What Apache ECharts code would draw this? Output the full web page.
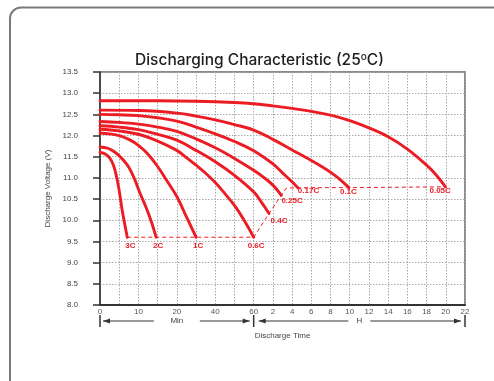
<!DOCTYPE html>
<html>
<head>
<meta charset="utf-8">
<script src="https://cdn.jsdelivr.net/npm/echarts@6/dist/echarts.min.js"></script>
<style>
html, body { margin: 0; padding: 0; background: #fff; }
#chart { width: 494px; height: 381px; }
</style>
</head>
<body>
<div id="chart"></div>
<script>
// discharge rates, one curve each
const rates = ['3C', '2C', '1C', '0.6C', '0.4C', '0.25C', '0.17C', '0.1C', '0.05C'];

// time in minutes, voltage in V
const t3C = [0, 1.25, 2.5, 3.5, 4.25, 5, 5.75, 6.5, 7.1];
const v3C = [11.60, 11.57, 11.47, 11.30, 11.05, 10.70, 10.25, 9.88, 9.60];
const t2C = [0, 2, 4, 6, 7.5, 9, 10.5, 12, 13.5, 14.6];
const v2C = [11.73, 11.70, 11.60, 11.43, 11.25, 10.97, 10.62, 10.30, 9.93, 9.60];
const t1C = [0, 2.5, 5, 7.5, 10, 12.5, 15, 17.5, 20, 25, 30];
const v1C = [12.06, 12.04, 12.00, 11.91, 11.77, 11.56, 11.27, 10.92, 10.56, 10.08, 9.60];
const t06C = [0, 5, 10, 15, 20, 25, 30, 35, 40, 45, 50, 55, 60];
const v06C = [12.15, 12.11, 12.03, 11.87, 11.65, 11.48, 11.30, 11.11, 10.89, 10.63, 10.35, 10.00, 9.60];
const t04C = [0, 5, 10, 15, 20, 30, 40, 50, 60, 84, 108];
const v04C = [12.23, 12.20, 12.14, 12.03, 11.89, 11.65, 11.38, 11.06, 10.67, 10.43, 10.16];
const t025C = [0, 5, 10, 15, 20, 30, 40, 50, 60, 90, 120, 173];
const v025C = [12.33, 12.31, 12.27, 12.20, 12.10, 11.92, 11.71, 11.46, 11.18, 11.02, 10.83, 10.59];
const t017C = [0, 5, 10, 15, 20, 30, 40, 50, 60, 120, 180, 228, 276];
const v017C = [12.50, 12.49, 12.47, 12.42, 12.34, 12.20, 12.04, 11.86, 11.64, 11.33, 11.12, 10.95, 10.77];
const t01C = [0, 10, 20, 30, 40, 50, 60, 120, 240, 360, 432, 492, 540, 595];
const v01C = [12.60, 12.59, 12.53, 12.46, 12.37, 12.26, 12.13, 11.91, 11.66, 11.41, 11.25, 11.10, 10.96, 10.77];
const t005C = [0, 15, 30, 50, 60, 120, 240, 360, 480, 600, 720, 840, 960, 1080, 1140, 1198];
const v005C = [12.82, 12.82, 12.81, 12.78, 12.75, 12.70, 12.64, 12.57, 12.48, 12.35, 12.18, 11.97, 11.68, 11.30, 11.07, 10.79];

// knee of the end-voltage line between 0.25C and 0.17C
const kneeT = 204;
const kneeV = 10.76;

// tick labels of the split time axis (min, then hours)
const xTickLabels = ['0', '', '10', '', '20', '', '40', '', '60',
  '2', '4', '6', '8', '10', '12', '14', '16', '18', '20', '22'];

const times = [t3C, t2C, t1C, t06C, t04C, t025C, t017C, t01C, t005C];
const volts = [v3C, v2C, v1C, v06C, v04C, v025C, v017C, v01C, v005C];

// axis is piecewise: 0-20 min, 20-60 min, 1-2 h, 2-22 h
function toAxis(m) {
  if (m <= 20) return m / 5;
  if (m <= 60) return 4 + (m - 20) / 10;
  if (m <= 120) return 8 + (m - 60) / 60;
  return 8 + m / 120;
}

const red = '#ec1c24';
// where each rate label sits relative to the curve end
const labelPos = [[-2, 5], [-3, 5], [-3, 5], [-6, 5], [1.5, 3], [0, 2], [0, -1], [-9, 0], [-16, 0]];

const series = rates.map((r, k) => {
  const t = times[k], v = volts[k];
  const data = t.map((m, i) => {
    const p = [toAxis(m), v[i]];
    if (i < t.length - 1) return p;
    return {
      value: p,
      label: {
        show: true, formatter: r, position: labelPos[k],
        color: red, fontSize: 8, fontWeight: 'bold', fontFamily: 'Liberation Sans'
      }
    };
  });
  return {
    name: r, type: 'line', data: data, smooth: 0.4,
    symbol: 'circle', symbolSize: 0, showSymbol: true,
    lineStyle: { color: red, width: 2.9, cap: 'round' }, itemStyle: { color: red },
    z: 3, silent: true, animation: false
  };
});

// dashed end-voltage line through the curve ends
const ends = rates.map((r, k) => {
  const t = times[k], v = volts[k];
  return [toAxis(t[t.length - 1]), v[v.length - 1]];
});
ends.splice(6, 0, [toAxis(kneeT), kneeV]);
series.push({
  type: 'line', data: ends, symbol: 'none', silent: true, animation: false,
  lineStyle: { color: red, width: 1, type: [4, 3] }, z: 2
});

const chart = echarts.init(document.getElementById('chart'));
const option = {
  backgroundColor: '#fff',
  animation: false,
  title: {
    text: 'Discharging Characteristic (25{o|o}C)',
    left: 130, top: 47,
    textStyle: {
      fontFamily: 'Inter', fontSize: 15.5, fontWeight: 500, color: '#1e1e1e',
      rich: { o: { fontSize: 10, verticalAlign: 'top', fontFamily: 'Inter', color: '#1e1e1e', padding: [0, 0, 6, 0] } }
    }
  },
  grid: {
    left: 100, right: 29, top: 72, bottom: 76,
    show: true, borderColor: '#666', borderWidth: 1.5
  },
  xAxis: {
    type: 'value', min: 0, max: 19, interval: 1,
    name: 'Discharge Time', nameLocation: 'middle', nameGap: 27,
    nameTextStyle: { fontSize: 8, color: '#444', fontFamily: 'Liberation Sans' },
    axisLine: { lineStyle: { color: '#333', width: 2 } },
    axisTick: { show: false },
    axisLabel: {
      fontSize: 8, color: '#555', margin: 3, fontFamily: 'Liberation Sans',
      formatter: (val) => xTickLabels[Math.round(val)]
    },
    splitLine: { lineStyle: { color: '#aaa', type: [1.5, 1.5], width: 1 } }
  },
  yAxis: {
    type: 'value', min: 8, max: 13.5, interval: 0.5, offset: 9,
    name: 'Discharge Voltage (V)', nameLocation: 'middle', nameGap: 37,
    nameTextStyle: { fontSize: 8, color: '#444', fontFamily: 'Liberation Sans' },
    axisLine: { show: true, lineStyle: { color: '#333', width: 1.5 } },
    axisTick: { show: true, length: 7, lineStyle: { color: '#333', width: 1.5 } },
    axisLabel: {
      fontSize: 8, color: '#444', margin: 13, fontFamily: 'Liberation Sans',
      formatter: (val) => val.toFixed(1)
    },
    splitLine: { lineStyle: { color: '#aaa', type: [1.5, 1.5], width: 1 } }
  },
  series: series
};
chart.setOption(option);

// card frame and the Min / H span arrows under the axis
const px = (u) => chart.convertToPixel({ xAxisIndex: 0 }, u);
const x0 = px(0), x8 = px(8), x19 = px(19);
const ay = 321;
const dark = '#333';
function arrow(xa, xb, dir) {
  const tip = dir < 0 ? xa : xb;
  return [
    { type: 'line', shape: { x1: xa, y1: ay, x2: xb, y2: ay }, style: { stroke: dark, lineWidth: 1.2 } },
    { type: 'polygon', shape: { points: [[tip, ay], [tip - dir * 7, ay - 2.5], [tip - dir * 7, ay + 2.5]] }, style: { fill: dark } }
  ];
}
function bar(x) {
  return { type: 'line', shape: { x1: x, y1: 315, x2: x, y2: 327 }, style: { stroke: dark, lineWidth: 1.5 } };
}
const midMin = (x0 + x8) / 2, midH = (x8 + x19) / 2;
const graphics = [
  { type: 'rect', shape: { x: 10, y: 7.5, width: 600, height: 500, r: 11 }, style: { fill: 'none', stroke: '#7a7a7a', lineWidth: 2 }, z: -1 },
  bar(x0), bar(x8), bar(x19),
  ...arrow(x0 + 3, midMin - 23, -1),
  ...arrow(midMin + 23, x8 - 4, 1),
  ...arrow(x8 + 5, midH - 11, -1),
  ...arrow(midH + 11, x19 - 4, 1),
  { type: 'text', x: midMin, y: ay, style: { text: 'Min', fontSize: 8, fill: '#444', align: 'center', verticalAlign: 'middle', fontFamily: 'Liberation Sans' } },
  { type: 'text', x: midH, y: ay, style: { text: 'H', fontSize: 8, fill: '#444', align: 'center', verticalAlign: 'middle', fontFamily: 'Liberation Sans' } }
];
chart.setOption({ graphic: graphics });
</script>
</body>
</html>
